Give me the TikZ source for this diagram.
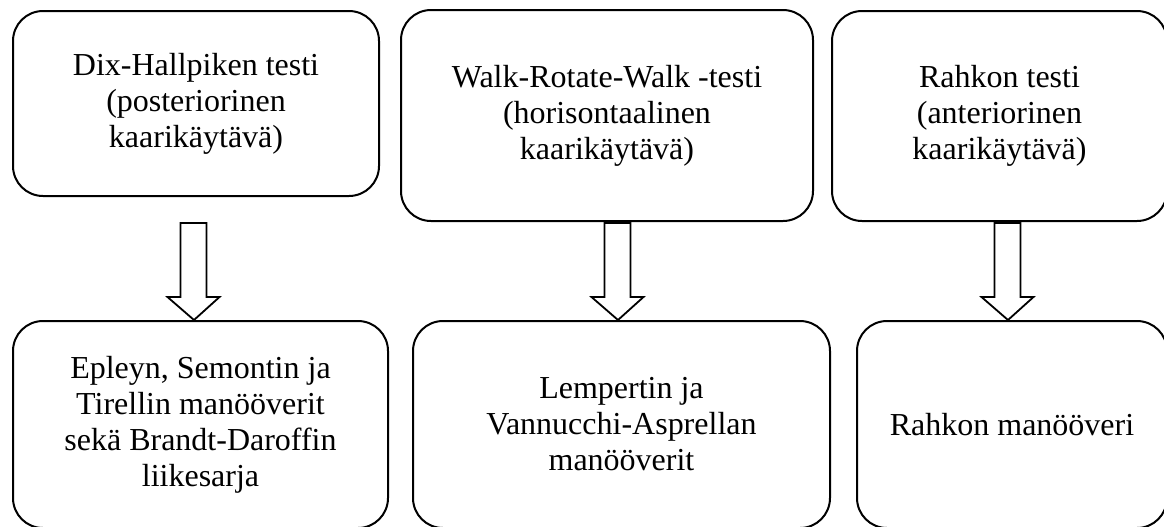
\documentclass[tikz,border=0pt]{standalone}
\usepackage{fontspec}
\setmainfont{Liberation Serif}
\usetikzlibrary{positioning}

\begin{document}
\begin{tikzpicture}[
    box/.style={rectangle, rounded corners=15pt, draw=black, line width=1pt, align=center, anchor=north west, font=\fontsize{16}{18}\selectfont},
    hollow/.style={draw=black, line width=0.9pt, fill=white, line join=miter}
]
\useasboundingbox (0,0) rectangle (582pt,-263pt);

% tests
\node[box, minimum width=183pt, minimum height=92.5pt] (dix) at (6pt,-5pt) {Dix-Hallpiken testi\\(posteriorinen\\kaarikäytävä)};
\node[box, right=10pt of dix.north east, anchor=north west, yshift=0.5pt, minimum width=206pt, minimum height=105.5pt] (wrw) {Walk-Rotate-Walk -testi\\(horisontaalinen\\kaarikäytävä)};
\node[box, right=8.5pt of wrw.north east, anchor=north west, yshift=-0.5pt, minimum width=167.5pt, minimum height=105pt] (rahko) {Rahkon testi\\(anteriorinen\\kaarikäytävä)};

% manoeuvres
\node[box, below=61.5pt of dix.south west, anchor=north west, minimum width=187.5pt, minimum height=103.5pt] (epley) {Epleyn, Semontin ja\\Tirellin manööverit\\sekä Brandt-Daroffin\\liikesarja};
\node[box, right=11.5pt of epley.north east, anchor=north west, minimum width=208.5pt, minimum height=103.5pt] (lempert) {Lempertin ja\\Vannucchi-Asprellan\\manööverit};
\node[box, right=12.5pt of lempert.north east, anchor=north west, minimum width=155pt, minimum height=103.5pt] (rahkoman) {Rahkon manööveri};

% block arrows
\foreach \b/\s in {epley/-3.25pt, lempert/-1.75pt, rahkoman/-2pt}
    \draw[hollow] ([xshift=\s]\b.north) -- ++(-13.25pt,11.5pt) -- ++(6.5pt,0) -- ++(0,37pt) -- ++(13pt,0) -- ++(0,-37pt) -- ++(6.5pt,0) -- cycle;

\end{tikzpicture}
\end{document}
